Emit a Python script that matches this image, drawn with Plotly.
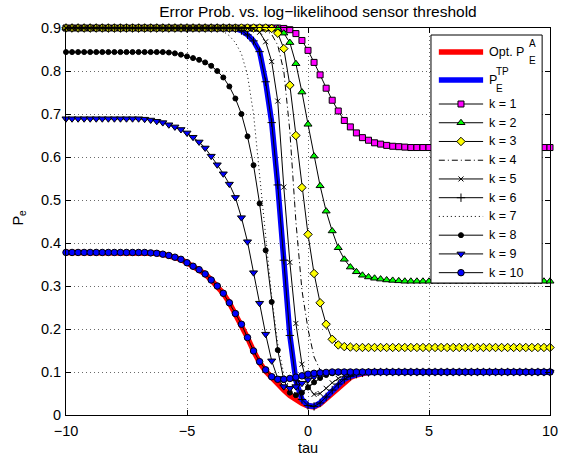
import numpy as np
import plotly.graph_objects as go

# sensor threshold grid
TAU = np.linspace(-10, 10, 81)

P_OPT = ([0.378] * 13 +
         [0.378, 0.377, 0.376, 0.374, 0.371, 0.367, 0.362, 0.354, 0.346, 0.338,
          0.328, 0.314, 0.300, 0.283, 0.261, 0.236, 0.211, 0.180, 0.149] +
         [0.122, 0.102, 0.086, 0.072, 0.058, 0.045, 0.035, 0.027, 0.021, 0.019,
          0.026, 0.038, 0.052, 0.066, 0.078, 0.087, 0.093, 0.097, 0.099] +
         [0.1] * 30)

P_TP = ([0.9] * 28 +
        [0.899, 0.894, 0.884, 0.870, 0.845, 0.775, 0.680, 0.535, 0.360, 0.185,
         0.080, 0.036, 0.022, 0.020, 0.028, 0.042, 0.058, 0.072, 0.083, 0.090,
         0.095, 0.098, 0.099] +
        [0.1] * 30)

K1 = ([0.9] * 36 +
      [0.899, 0.896, 0.887, 0.871, 0.848, 0.820, 0.791, 0.760, 0.732, 0.707,
       0.685, 0.670, 0.656, 0.645, 0.639, 0.633, 0.630, 0.627, 0.625, 0.624,
       0.623] +
      [0.622] * 24)

K2 = ([0.9] * 35 +
      [0.899, 0.888, 0.866, 0.817, 0.751, 0.676, 0.602, 0.533, 0.474, 0.428,
       0.389, 0.362, 0.344, 0.333, 0.325, 0.321, 0.318, 0.316, 0.314, 0.313,
       0.312] +
      [0.311] * 25)

K3 = ([0.9] * 34 +
      [0.899, 0.888, 0.852, 0.767, 0.650, 0.529, 0.420, 0.329, 0.261, 0.211,
       0.176, 0.163, 0.159, 0.158] +
      [0.157] * 33)

K4 = ([0.9] * 32 +
      [0.899, 0.895, 0.885, 0.860, 0.800, 0.660, 0.450, 0.290, 0.200, 0.135,
       0.105, 0.095, 0.093, 0.095, 0.097, 0.099] +
      [0.1] * 33)

K5 = ([0.9] * 30 +
      [0.899, 0.897, 0.890, 0.868, 0.822, 0.730, 0.530, 0.355, 0.213, 0.118,
       0.066, 0.048, 0.050, 0.062, 0.075, 0.085, 0.092, 0.096, 0.098, 0.099] +
      [0.1] * 31)

K6 = ([0.9] * 28 +
      [0.899, 0.894, 0.884, 0.870, 0.845, 0.775, 0.680, 0.535, 0.360, 0.185,
       0.080, 0.036, 0.022, 0.020, 0.028, 0.042, 0.058, 0.072, 0.083, 0.090,
       0.095, 0.098, 0.099] +
      [0.1] * 30)

K7 = ([0.9] * 24 +
      [0.899, 0.897, 0.892, 0.882, 0.866, 0.840, 0.790, 0.700, 0.560, 0.410,
       0.275, 0.165, 0.095, 0.060, 0.050, 0.054, 0.064, 0.075, 0.085, 0.092,
       0.096, 0.098, 0.099, 0.0995] +
      [0.1] * 33)

K8 = ([0.844] * 17 +
      [0.843, 0.841, 0.838, 0.834, 0.830, 0.826, 0.820, 0.812, 0.800, 0.785,
       0.764, 0.736, 0.700, 0.648, 0.581, 0.492, 0.383, 0.263, 0.151, 0.081,
       0.052, 0.046, 0.052, 0.064, 0.076, 0.086, 0.093, 0.097, 0.099] +
      [0.1] * 35)

K9 = ([0.689] * 13 +
      [0.688, 0.686, 0.683, 0.680, 0.675, 0.670, 0.664, 0.656, 0.646, 0.635,
       0.621, 0.602, 0.582, 0.561, 0.537, 0.506, 0.459, 0.403, 0.331, 0.260,
       0.188, 0.126, 0.085, 0.066, 0.062, 0.066, 0.074, 0.082, 0.089, 0.094,
       0.097, 0.099] +
      [0.1] * 36)

K10 = ([0.378] * 13 +
       [0.378, 0.377, 0.376, 0.374, 0.371, 0.367, 0.362, 0.354, 0.346, 0.338,
        0.328, 0.314, 0.300, 0.283, 0.261, 0.236, 0.211, 0.180, 0.149, 0.124,
        0.105, 0.089, 0.083, 0.083, 0.085, 0.088, 0.091, 0.095, 0.097, 0.098,
        0.099] +
       [0.1] * 37)

X_TICKS = [-10, -5, 0, 5, 10]
Y_TICKS = [0, 0.1, 0.2, 0.3, 0.4, 0.5, 0.6, 0.7, 0.8, 0.9]
Y_TICK_TEXT = ["0", "0.1", "0.2", "0.3", "0.4", "0.5", "0.6", "0.7", "0.8", "0.9"]

FONT = "Liberation Sans, Arial, Helvetica, sans-serif"
W, H = 568, 459
ML, MR, MT, MB = 66, 10, 28, 44

# (name, values, line colour, line width, dash, marker symbol, marker fill, marker size)
SERIES = [
    ("opt", P_OPT, "#ff0000", 5.5, "solid", None, None, 0),
    ("tp", P_TP, "#0000ff", 5.5, "solid", None, None, 0),
    ("k = 1", K1, "black", 1, "solid", "square", "#ff00ff", 6),
    ("k = 2", K2, "black", 1, "solid", "triangle-up", "#00ff00", 7),
    ("k = 3", K3, "black", 1, "solid", "diamond", "#ffff00", 6.5),
    ("k = 4", K4, "black", 1, "6px,3px,1px,3px", None, None, 0),
    ("k = 5", K5, "black", 1, "solid", "x-thin", "black", 5),
    ("k = 6", K6, "black", 1, "solid", "cross-thin", "black", 6),
    ("k = 7", K7, "black", 1, "1px,3px", None, None, 0),
    ("k = 8", K8, "black", 1, "solid", "circle", "black", 5),
    ("k = 9", K9, "black", 1, "solid", "triangle-down", "#0000ff", 7),
    ("k = 10", K10, "black", 1, "solid", "circle", "#0000ff", 6.5),
]


def marker_dict(sym, fill, size):
    return dict(symbol=sym, size=size, color=fill, line=dict(color="black", width=1))


fig = go.Figure()

for name, vals, col, lw, dash, sym, fill, size in SERIES:
    kw = dict(x=TAU, y=vals, line=dict(color=col, width=lw, dash=dash),
              cliponaxis=False, showlegend=False, hoverinfo="skip")
    if sym is None:
        fig.add_trace(go.Scatter(mode="lines", **kw))
    else:
        fig.add_trace(go.Scatter(mode="lines+markers", marker=marker_dict(sym, fill, size), **kw))

# ---- legend box, drawn on an overlay axis pair measured in pixels ----
LEG_L, LEG_R, LEG_T, LEG_B = 437, 550, 35, 283
SAMPLE_X0, SAMPLE_X1, TEXT_X = 445, 490, 493.5
ROW_Y = [52, 80] + [104 + 18.74 * i for i in range(10)]

ov = dict(xaxis="x2", yaxis="y2", showlegend=False, hoverinfo="skip", cliponaxis=False)
fig.add_trace(go.Scatter(x=[LEG_L, LEG_R, LEG_R, LEG_L, LEG_L],
                         y=[LEG_T, LEG_T, LEG_B, LEG_B, LEG_T],
                         mode="lines", fill="toself", fillcolor="white",
                         line=dict(color="black", width=1), **ov))

for (name, vals, col, lw, dash, sym, fill, size), ry in zip(SERIES, ROW_Y):
    fig.add_trace(go.Scatter(x=[SAMPLE_X0, SAMPLE_X1], y=[ry, ry], mode="lines",
                             line=dict(color=col, width=lw, dash=dash), **ov))
    if sym is not None:
        fig.add_trace(go.Scatter(x=[(SAMPLE_X0 + SAMPLE_X1) / 2], y=[ry], mode="markers",
                                 marker=marker_dict(sym, fill, size), **ov))

LEG_FS, SUB_FS = 12.5, 10
annotations = []


def leg_text(text, x, y, size, anchor="left"):
    annotations.append(dict(text=text, x=x, y=y, xref="x2", yref="y2",
                            xanchor=anchor, yanchor="middle", showarrow=False,
                            font=dict(family=FONT, size=size, color="black")))


leg_text("Opt. P", TEXT_X, ROW_Y[0], LEG_FS)
leg_text("A", 535, ROW_Y[0] - 8.5, SUB_FS)
leg_text("E", 535, ROW_Y[0] + 8.5, SUB_FS)
leg_text("P", TEXT_X, ROW_Y[1], LEG_FS)
leg_text("TP", 501.5, ROW_Y[1] - 8.5, SUB_FS)
leg_text("E", 501.5, ROW_Y[1] + 8.5, SUB_FS)
for (name, *_), ry in zip(SERIES[2:], ROW_Y[2:]):
    leg_text(name, TEXT_X, ry, LEG_FS)

annotations += [
    dict(text="tau", x=0.5, y=-0.085, xref="paper", yref="paper",
         xanchor="center", yanchor="middle", showarrow=False,
         font=dict(family=FONT, size=14.5, color="black")),
    dict(text="P<sub>e</sub>", x=-0.098, y=0.509, xref="paper", yref="paper",
         xanchor="center", yanchor="middle", showarrow=False, textangle=-90,
         font=dict(family=FONT, size=14.5, color="black")),
]

axis_common = dict(
    showline=True, linecolor="black", linewidth=1, mirror="ticks",
    ticks="inside", ticklen=5, tickcolor="black", tickwidth=1,
    showgrid=True, gridcolor="#6a6a6a", gridwidth=1, griddash="1px,3px",
    zeroline=False, tickfont=dict(family=FONT, size=14.5, color="black"),
)

fig.update_layout(
    width=W, height=H,
    margin=dict(l=ML, r=MR, t=MT, b=MB),
    paper_bgcolor="white", plot_bgcolor="white",
    font=dict(family=FONT, color="black"),
    title=dict(text="Error Prob. vs. log\u2212likelihood sensor threshold",
               x=318 / W, xanchor="center", y=1 - 12 / H, yanchor="middle",
               font=dict(family=FONT, size=15.5, color="black")),
    xaxis=dict(range=[-10, 10], tickvals=X_TICKS, ticklabelstandoff=3, **axis_common),
    yaxis=dict(range=[0, 0.9], tickvals=Y_TICKS, ticktext=Y_TICK_TEXT,
               ticklabelstandoff=1, **axis_common),
    xaxis2=dict(overlaying="x", range=[ML, W - MR], visible=False, fixedrange=True),
    yaxis2=dict(overlaying="y", range=[H - MB, MT], visible=False, fixedrange=True),
    showlegend=False,
    annotations=annotations,
)

fig.write_html("out.html")
